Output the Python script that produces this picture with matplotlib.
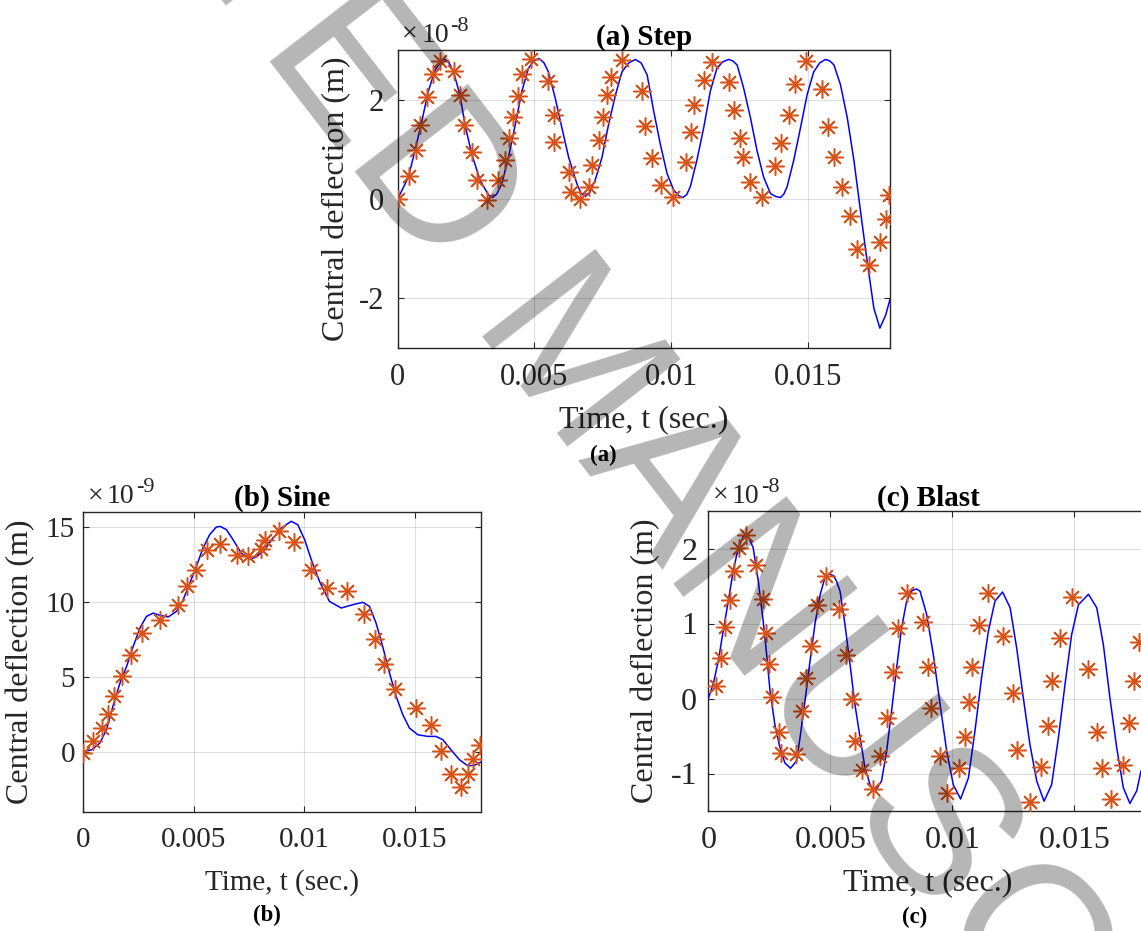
import matplotlib
matplotlib.use("Agg")
import matplotlib.pyplot as plt
from matplotlib.ticker import FuncFormatter
import numpy as np

# ---- (a) Step load: solid line (t in ms, deflection in 1e-8 m)
step_line_t = [0, 0.39, 0.63, 0.88, 1.12, 1.37, 1.61, 1.73, 1.88, 2.04, 2.28, 2.46, 2.71,
               3.01, 3.32, 3.47, 3.62, 3.81, 4.05, 4.30, 4.54, 4.78, 4.97, 5.17, 5.35,
               5.51, 5.76, 6.00, 6.25, 6.55, 6.70, 6.86, 7.03, 7.22, 7.47, 7.71, 7.96,
               8.20, 8.45, 8.69, 8.90, 9.12, 9.36, 9.60, 9.85, 10.09, 10.27, 10.43, 10.57,
               10.70, 10.94, 11.19, 11.43, 11.67, 11.88, 12.10, 12.25, 12.41, 12.65,
               12.90, 13.14, 13.38, 13.63, 13.82, 14.00, 14.12, 14.24, 14.48, 14.73,
               14.97, 15.21, 15.43, 15.64, 15.80, 15.95, 16.19, 16.44, 16.68, 16.93,
               17.17, 17.41, 17.63, 17.84, 18.0]
step_line_v = [0, 0.44, 0.97, 1.56, 2.17, 2.60, 2.79, 2.81, 2.74, 2.56, 2.09, 1.49, 0.90,
               0.38, 0.08, 0.03, 0.10, 0.31, 0.84, 1.50, 2.17, 2.63, 2.78, 2.83, 2.74,
               2.56, 2.03, 1.44, 0.84, 0.31, 0.12, 0.05, 0.14, 0.38, 0.84, 1.50, 2.09,
               2.56, 2.74, 2.81, 2.74, 2.50, 1.77, 1.11, 0.51, 0.18, 0.07, 0.03, 0.09,
               0.25, 0.78, 1.44, 2.17, 2.63, 2.76, 2.81, 2.78, 2.70, 2.23,
               1.63, 0.97, 0.44, 0.11, 0.05, 0.03, 0.10, 0.25, 0.78, 1.44,
               2.10, 2.56, 2.74, 2.81, 2.78, 2.70, 2.30, 1.63, 0.78, -0.28,
               -1.28, -2.20, -2.60, -2.34, -2.02]
# (a) Step load: star markers
step_mark_t = [0, 0.41, 0.67, 0.82, 1.06, 1.28, 1.55, 2.05, 2.28, 2.44, 2.71, 2.89, 3.28,
               3.66, 3.93, 4.08, 4.23, 4.39, 4.56, 4.88, 5.49, 5.70, 5.73, 6.25, 6.34,
               6.65, 6.98, 7.10, 7.37, 7.50, 7.67, 7.81, 8.20, 8.93, 9.05, 9.30, 9.63,
               10.07, 10.54, 10.72, 10.85, 11.19, 11.49, 12.10, 12.29, 12.53, 12.61,
               12.87, 13.32, 13.79, 14.03, 14.30, 14.54, 14.93, 15.52, 15.73, 15.97,
               16.23, 16.53, 16.80, 17.23, 17.65, 17.87, 17.96]
step_mark_v = [0, 0.46, 0.99, 1.49, 2.05, 2.51, 2.77, 2.58, 2.09, 1.49, 0.94, 0.39, -0.02,
               0.38, 0.79, 1.23, 1.65, 2.08, 2.52, 2.81, 2.38, 1.70, 1.14, 0.54, 0.15,
               0.0, 0.25, 0.68, 1.19, 1.65, 2.09, 2.46, 2.79, 2.17, 1.47, 0.83, 0.28,
               0.05, 0.74, 1.34, 1.90, 2.40, 2.76, 2.35, 1.79, 1.23, 0.84,
               0.34, 0.05, 0.66, 1.12, 1.70, 2.31, 2.78, 2.22, 1.44, 0.85,
               0.25, -0.34, -1.0, -1.33, -0.86, -0.40, 0.08]

# ---- (b) Sine load (deflection in 1e-9 m)
sine_line_t = [0, 0.38, 0.75, 1.05, 1.36, 1.66, 1.96, 2.26, 2.56, 2.86, 3.16, 3.46, 3.84,
               4.22, 4.52, 4.82, 5.12, 5.42, 5.72, 6.02, 6.20, 6.48, 6.78, 7.15, 7.53,
               7.83, 8.21, 8.58, 8.96, 9.41, 9.71, 10.02, 10.32, 10.69, 11.14, 11.67,
               12.20, 12.65, 12.95, 13.25, 13.55, 13.86, 14.16, 14.46, 14.76, 15.14,
               15.59, 15.96, 16.27, 16.64, 17.02, 17.39, 17.70, 17.97]
sine_line_v = [0, 0.13, 0.58, 1.47, 3.13, 4.58, 5.69, 7.02, 8.24, 9.02, 9.24, 9.09, 8.98,
               9.36, 10.13, 11.24, 12.36, 13.58, 14.47, 14.98, 15.02, 14.80, 14.13, 13.24,
               12.84, 12.98, 13.47, 14.24, 14.91, 15.36, 15.13, 14.13, 12.80, 11.36,
               10.02, 9.58, 9.80, 9.96, 9.69, 8.58, 7.02, 5.24, 3.69, 2.47, 1.58, 1.13,
               1.02, 1.02, 0.80, 0.13, -0.53, -0.93, -0.91, -0.71]
sine_mark_t = [0, 0.42, 0.83, 1.13, 1.39, 1.76, 2.15, 2.64, 3.49, 4.29, 4.71, 5.12, 5.62,
               6.17, 6.96, 7.45, 8.03, 8.24, 8.86, 9.53, 10.32, 11.04, 11.94, 12.71,
               13.18, 13.63, 14.13, 15.06, 15.75, 16.19, 16.64, 17.09, 17.42, 17.65, 17.95]
sine_mark_v = [-0.1, 0.69, 1.58, 2.51, 3.69, 5.02, 6.44, 7.91, 8.80, 9.76, 11.02, 12.13,
               13.47, 13.87, 13.13, 13.07, 13.51, 14.13, 14.69, 13.96, 12.13, 10.91,
               10.69, 9.20, 7.51, 5.87, 4.20, 2.91, 1.80, 0.07, -1.47, -2.36, -1.47,
               -0.49, 0.47]

# ---- (c) Blast load (deflection in 1e-8 m)
blast_line_t = [0, 0.20, 0.41, 0.61, 0.82, 1.02, 1.23, 1.43, 1.61, 1.84, 2.05, 2.25, 2.39,
                2.53, 2.73, 2.94, 3.14, 3.37, 3.62, 3.76, 3.96, 4.17, 4.37, 4.58, 4.78,
                4.95, 5.12, 5.25, 5.40, 5.60, 5.81, 6.01, 6.22, 6.42, 6.63, 6.83, 7.10,
                7.31, 7.51, 7.72, 7.92, 8.13, 8.35, 8.54, 8.68, 8.95, 9.22, 9.50, 9.77,
                10.04, 10.34, 10.66, 10.93, 11.20, 11.48, 11.75, 12.06, 12.37, 12.64,
                12.91, 13.18, 13.46, 13.76, 14.07, 14.35, 14.62, 14.89, 15.17, 15.58,
                15.92, 16.19, 16.46, 16.74, 17.01, 17.28, 17.56, 17.73]
blast_line_v = [0, 0.19, 0.50, 0.90, 1.30, 1.70, 2.01, 2.16, 2.18, 2.01, 1.56, 1.03, 0.59,
                0.10, -0.35, -0.66, -0.86, -0.93, -0.83, -0.52, -0.04, 0.50, 0.99, 1.38,
                1.61, 1.66, 1.64, 1.57, 1.43, 0.99, 0.45, -0.08, -0.52, -0.92, -1.15,
                -1.24, -1.10, -0.70, -0.17, 0.41, 0.94, 1.30, 1.44, 1.46, 1.43, 1.12,
                0.59, -0.08, -0.70, -1.15, -1.34, -1.06, -0.43, 0.28, 0.90, 1.30, 1.42,
                1.21, 0.67, 0.01, -0.61, -1.10, -1.37, -1.15, -0.52, 0.19, 0.85, 1.25,
                1.39, 1.21, 0.72, 0.01, -0.66, -1.19, -1.40, -1.23, -0.97]
blast_mark_t = [0.30, 0.51, 0.68, 0.89, 1.07, 1.26, 1.53, 1.95, 2.25, 2.35, 2.49, 2.60,
                2.90, 2.98, 3.58, 3.83, 4.00, 4.19, 4.47, 4.82, 5.37, 5.63, 5.90, 6.01,
                6.28, 6.73, 7.04, 7.31, 7.55, 7.79, 8.16, 8.78, 9.00, 9.11, 9.50, 9.80,
                10.28, 10.52, 10.70, 10.79, 11.11, 11.48, 12.06, 12.48, 12.64, 13.18,
                13.62, 13.94, 14.10, 14.41, 14.92, 15.58, 15.94, 16.14, 16.51, 16.98,
                17.24, 17.46, 17.65]
blast_mark_v = [0.17, 0.54, 0.96, 1.31, 1.70, 2.01, 2.18, 1.78, 1.33, 0.87, 0.46, 0.02,
                -0.44, -0.72, -0.74, -0.16, 0.27, 0.70, 1.25, 1.63, 1.19, 0.58, -0.01,
                -0.57, -0.95, -1.21, -0.77, -0.26, 0.35, 0.94, 1.41, 1.02, 0.42, -0.13,
                -0.77, -1.26, -0.93, -0.51, -0.04, 0.42, 0.98, 1.41, 0.84, 0.08, -0.68,
                -1.38, -0.91, -0.36, 0.23, 0.81, 1.35, 0.39, -0.45, -0.92, -1.34, -0.88,
                -0.32, 0.23, 0.75]

x_ticks = [0, 0.005, 0.01, 0.015]

W, H = 1141, 931
DARK = (0.15, 0.15, 0.15)
ORANGE = "#D95319"

plt.rcParams["font.family"] = ["Liberation Serif", "DejaVu Serif"]
plt.rcParams["axes.unicode_minus"] = False

fig = plt.figure(figsize=(W / 100, H / 100), dpi=100)


def px_axes(left, top, right, bottom):
    return fig.add_axes([left / W, 1 - bottom / H, (right - left) / W, (bottom - top) / H])


def draw_panel(ax, lt, lv, mt, mv, exp, ylim, yticks, title, ylab_x, xlab_y,
               tick_fs, ypad, xlab_fs):
    scale = 10.0 ** exp
    ax.plot(np.array(lt) * 1e-3, np.array(lv) * scale, color="blue", lw=1.1, zorder=3)
    ax.plot(np.array(mt) * 1e-3, np.array(mv) * scale, ls="none", marker=(8, 2, 0),
            ms=13, mec=ORANGE, mfc=ORANGE, mew=1.1, zorder=4)

    ax.set_xlim(0, 0.018)
    ax.set_ylim(ylim[0] * scale, ylim[1] * scale)
    ax.set_xticks(x_ticks)
    ax.set_yticks([y * scale for y in yticks])
    ax.xaxis.set_major_formatter(FuncFormatter(lambda v, p: "%g" % round(v, 6)))
    ax.yaxis.set_major_formatter(FuncFormatter(lambda v, p: "%g" % round(v / scale, 6)))
    ax.tick_params(direction="in", length=4.5, width=0.8, top=True, right=True,
                   labelsize=tick_fs, colors=DARK, labelcolor=DARK)
    ax.tick_params(axis="x", pad=11)
    ax.tick_params(axis="y", pad=ypad)
    ax.grid(True, color=DARK, alpha=0.15, lw=0.8)
    ax.set_axisbelow(True)
    for sp in ax.spines.values():
        sp.set_color(DARK)
        sp.set_linewidth(1.0)

    ax.set_title(title, fontsize=21, fontweight="bold", pad=4)
    ax.set_xlabel("Time, t (sec.)", fontsize=xlab_fs, va="center", color=DARK)
    ax.xaxis.set_label_coords(0.5, xlab_y)
    ax.set_ylabel("Central deflection (m)", fontsize=23, va="center", color=DARK)
    ax.yaxis.set_label_coords(ylab_x, 0.5)

    # MATLAB style exponent label above the top-left corner
    ax.annotate("\u00d7", xy=(0, 1), xycoords="axes fraction", xytext=(3, 6),
                textcoords="offset points", fontsize=20, va="baseline", color=DARK)
    ax.annotate("10", xy=(0, 1), xycoords="axes fraction", xytext=(17, 6),
                textcoords="offset points", fontsize=20, va="baseline", color=DARK)
    ax.annotate("-%d" % abs(exp), xy=(0, 1), xycoords="axes fraction", xytext=(38, 14),
                textcoords="offset points", fontsize=16, va="baseline", color=DARK)


ax_a = px_axes(397.7, 50, 890, 348)
ax_b = px_axes(83.3, 511.7, 481, 811.7)
ax_c = px_axes(708.3, 511, 1147.5, 811)

draw_panel(ax_a, step_line_t, step_line_v, step_mark_t, step_mark_v, -8,
           (-3, 3), [-2, 0, 2], "(a) Step", -0.1233, -0.2416, 22, 10, 23)
draw_panel(ax_b, sine_line_t, sine_line_v, sine_mark_t, sine_mark_v, -9,
           (-4, 16), [0, 5, 10, 15], "(b) Sine", -0.1567, -0.2377, 21, 6, 21)
draw_panel(ax_c, blast_line_t, blast_line_v, blast_mark_t, blast_mark_v, -8,
           (-1.5, 2.5), [-1, 0, 1, 2], "(c) Blast", -0.1418, -0.24, 23, 8, 23)

fig.text(603 / W, 1 - 455 / H, "(a)", ha="center", va="center", fontsize=16.5, fontweight="bold")
fig.text(267 / W, 1 - 915 / H, "(b)", ha="center", va="center", fontsize=16.5, fontweight="bold")
fig.text(915 / W, 1 - 917 / H, "(c)", ha="center", va="center", fontsize=16.5, fontweight="bold")

# diagonal watermark
fig.text(528 / W, 1 - 396 / H, "ACCEPTED MANUSCRIPT", family="Liberation Sans",
         fontsize=150, color="black", alpha=0.29, rotation=-52.3,
         rotation_mode="anchor", ha="center", va="baseline", zorder=10)

fig.savefig("out.png", dpi=100)
